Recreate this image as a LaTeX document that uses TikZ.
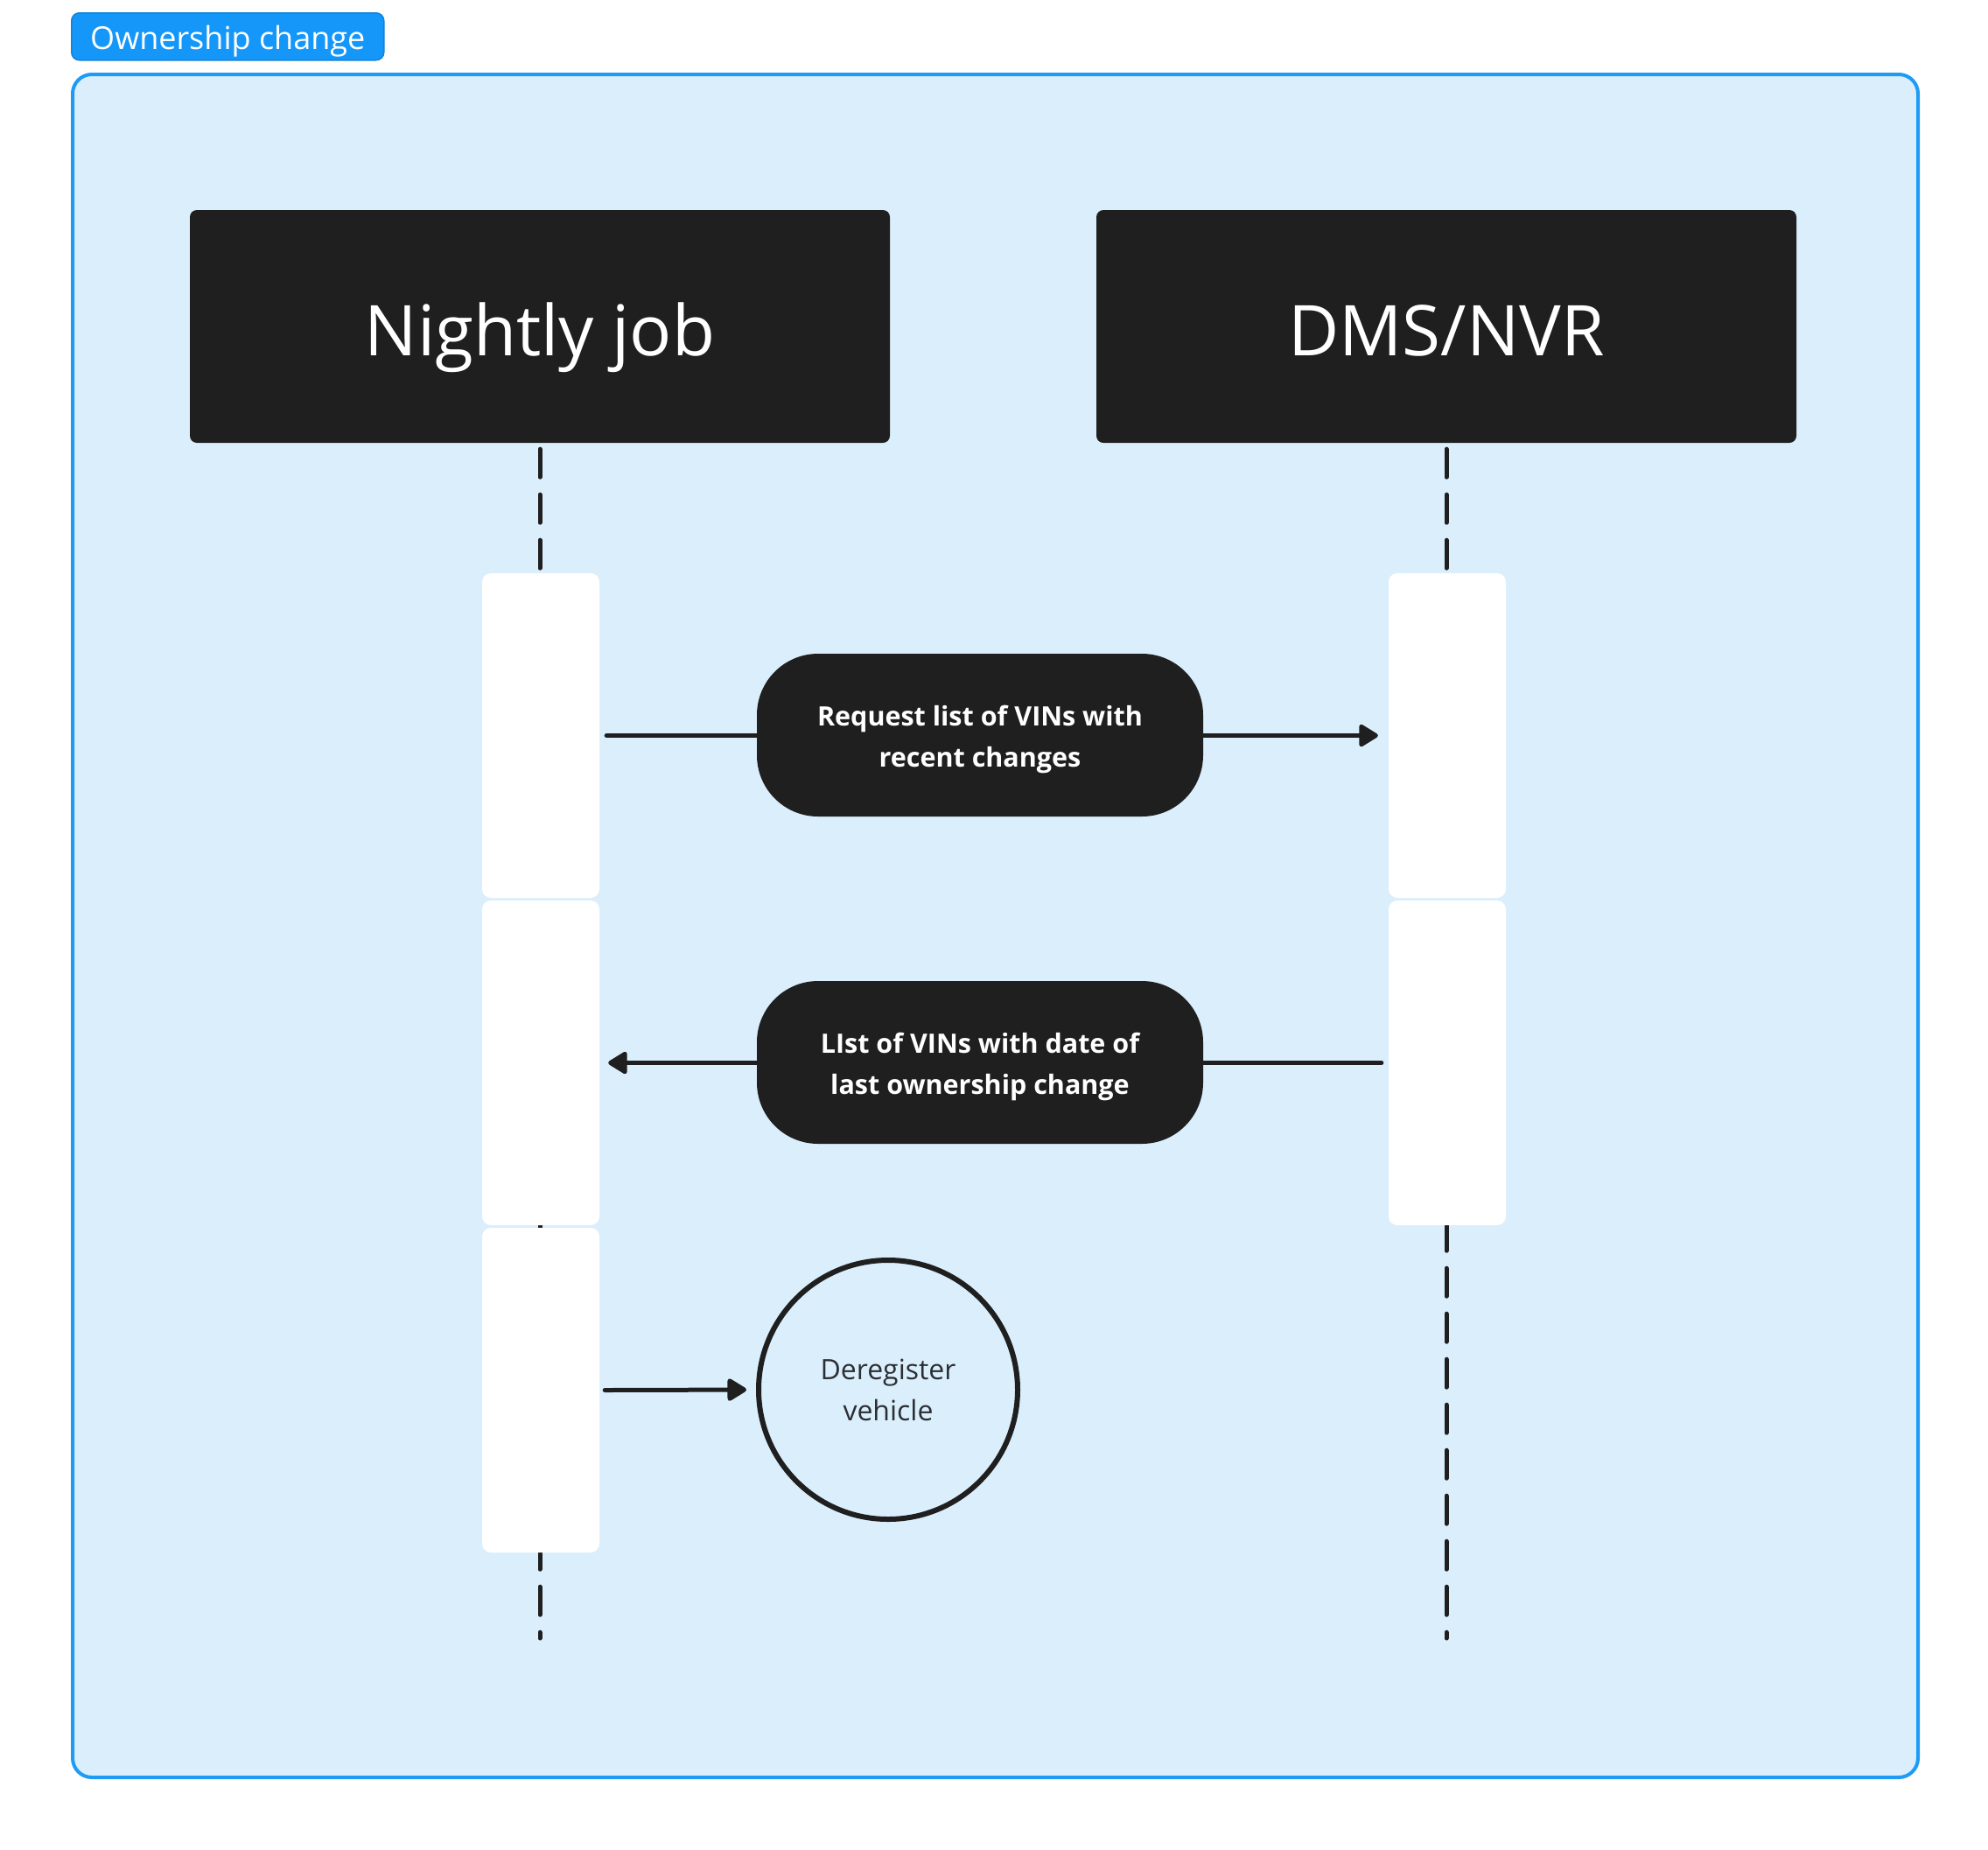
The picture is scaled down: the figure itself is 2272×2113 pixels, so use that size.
\documentclass[tikz,border=0pt]{standalone}
\usepackage{fontspec}
\setmainfont{Open Sans}
\usetikzlibrary{arrows.meta}
\definecolor{framefill}{HTML}{DAEEFC}
\definecolor{frameline}{HTML}{1E9BF5}
\definecolor{tagfill}{HTML}{1597FA}
\definecolor{tagborder}{HTML}{1283D8}
\definecolor{ink}{HTML}{1F1F1F}
\definecolor{txtgray}{HTML}{2B2F33}
\begin{document}
\begin{tikzpicture}[x=1pt,y=-1pt,
  header/.style={fill=ink, rounded corners=8pt, minimum width=800pt, minimum height=266pt, text=white, font=\fontsize{80}{96}\selectfont, text height=66pt, text depth=0pt, inner sep=0pt},
  actbox/.style={fill=white, rounded corners=10pt, minimum width=134pt, minimum height=371pt, inner sep=0pt},
  msg/.style={fill=ink, rounded corners=70pt, minimum width=510pt, minimum height=186pt, text=white, font=\fontsize{30.5}{47.5}\selectfont\bfseries, align=center, text height=88.5pt, text depth=15pt, inner sep=0pt},
  lifeline/.style={draw=ink, line width=5pt, line cap=round, dash pattern=on 32pt off 20pt},
  msgline/.style={draw=ink, line width=5pt, line cap=round},
  tip/.style={-{Triangle[length=24pt,width=28pt,round]}}
]
\path[use as bounding box] (0,0) rectangle (2272,2113);
\node[draw=frameline, line width=4pt, fill=framefill, rounded corners=22pt, minimum width=2109pt, minimum height=1946pt, anchor=north west, inner sep=0pt] (frame) at (81,83) {};
\node[fill=tagfill, draw=tagborder, line width=1.5pt, rounded corners=9pt, minimum width=357pt, minimum height=54pt, anchor=north west, text=white, font=\fontsize{36}{40}\selectfont, text height=31pt, text depth=1pt, inner sep=0pt] (tag) at (81,14) {Ownership change};

\node[header] (nj) at (617,373) {Nightly job};
\node[header] (dms) at (1653,373) {DMS/NVR};
\coordinate (njEnd) at (617,1872);
\coordinate (dmsEnd) at (1653,1872);
\draw[lifeline] ([yshift=-7pt]nj.south) -- (njEnd);
\draw[lifeline] ([yshift=-7pt]dms.south) -- (dmsEnd);

\node[actbox] (act1) at (618,840.5) {};
\node[actbox] (act2) at (618,1214.5) {};
\node[actbox] (act3) at (618,1588.5) {};
\node[actbox] (act4) at (1654,840.5) {};
\node[actbox] (act5) at (1654,1214.5) {};

\node[msg] (m1) at (1120,840) {Request list of VINs with\\recent changes};
\node[msg] (m2) at (1120,1214) {LIst of VINs with date of\\last ownership change};
\node[draw=ink, line width=6pt, circle, minimum size=296pt, inner sep=0pt, text=txtgray, font=\fontsize{32}{47}\selectfont, align=center] (dereg) at (1015,1588) {Deregister\\vehicle};

\draw[msgline] ([xshift=8pt]act1.east) -- (act1.east -| m1.west);
\draw[msgline, tip] (act4.west -| m1.east) -- ([xshift=-12pt]act4.west);
\draw[msgline, tip] (act2.east -| m2.west) -- ([xshift=10pt]act2.east);
\draw[msgline] (m2.east |- act5.west) -- ([xshift=-8pt]act5.west);
\draw[msgline, tip, shorten >=11pt] ([xshift=6pt]act3.east) -- (dereg.west);
\end{tikzpicture}
\end{document}
